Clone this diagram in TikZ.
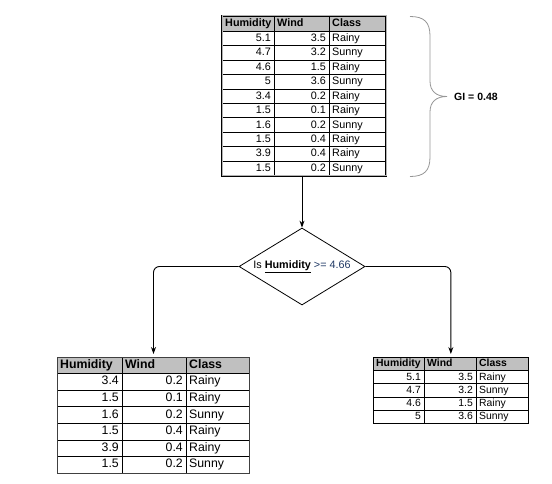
\documentclass[tikz,border=0pt]{standalone}
\usepackage{fontspec}
\setmainfont{Liberation Sans}
\usetikzlibrary{shapes.geometric, arrows.meta}
\definecolor{hdrgray}{RGB}{192,192,192}
\definecolor{condblue}{RGB}{31,56,100}
\definecolor{bracegray}{RGB}{150,150,150}
\begin{document}
\begin{tikzpicture}[
        x=1pt, y=-1pt,
        font=\fontsize{10.8}{12}\selectfont
    ]
    \tikzset{
        tabframe/.style = {draw=black, rectangle, inner sep=0pt, anchor=north west},
        gridl/.style = {draw=black, line width=0.5pt},
        cellr/.style = {anchor=east, inner sep=1pt, text height=1.6ex, text depth=0.4ex},
        celll/.style = {anchor=west, inner sep=1pt, text height=1.6ex, text depth=0.4ex},
        decision/.style = {diamond, draw=black, line width=0.8pt, aspect=1.64,
            minimum width=126pt, minimum height=77pt, inner sep=0pt},
        conn/.style = {-{Stealth[length=7pt,width=5pt]}, line width=0.9pt, rounded corners=6pt},
    }
    \useasboundingbox (0,0) rectangle (552,484);
    % root table
    \fill[hdrgray] (222,15.5) rectangle (386,31);
    \foreach \h/\w/\c [count=\i] in {5.1/3.5/Rainy, 4.7/3.2/Sunny, 4.6/1.5/Rainy,
        5/3.6/Sunny, 3.4/0.2/Rainy, 1.5/0.1/Rainy, 1.6/0.2/Sunny, 1.5/0.4/Rainy,
        3.9/0.4/Rainy, 1.5/0.2/Sunny} {
        \node[cellr] (th\i) at (272,{31+14.45*(\i-0.5)}) {\h};
        \node[cellr] (tw\i) at (327,{31+14.45*(\i-0.5)}) {\w};
        \node[celll] (tc\i) at (331,{31+14.45*(\i-0.5)}) {\c};
        \draw[gridl] (222,{31+14.45*\i}) -- (386,{31+14.45*\i});
    }
    \draw[gridl] (222,31) -- (386,31);
    \draw[gridl] (274,15.5) -- (274,175.5);
    \draw[gridl] (329,15.5) -- (329,175.5);
    \node[celll] (thh) at (224,23.25) {\textbf{Humidity}};
    \node[celll] (twh) at (276,23.25) {\textbf{Wind}};
    \node[celll] (tch) at (331,23.25) {\textbf{Class}};
    \node[tabframe, minimum width=164pt, minimum height=160pt, line width=0.5pt,
        double=gray!60, double distance=0.8pt] (toptab) at (222,15.5) {};
    %
    \draw[bracegray, line width=0.8pt] (410,16.5) .. controls (424,16.5) and (430,22) .. (430,36)
        -- (430,81) .. controls (430,91) and (436,96.5) .. (447,96.5)
        .. controls (436,96.5) and (430,102) .. (430,112)
        -- (430,157) .. controls (430,171) and (424,176.5) .. (410,176.5);
    \node[anchor=west, inner sep=0pt, font=\fontsize{10.5}{12}\selectfont\bfseries] (gi) at (454,96.5) {GI = 0.48};
    %
    \node[decision] (dia) at (302,266.5)
        {Is \underline{\textbf{Humidity}} \textcolor{condblue}{>= 4.66}};
    % left child table
    \begin{scope}[font=\fontsize{12.3}{14}\selectfont]
    \fill[hdrgray] (57,357) rectangle (249,373.5);
    \foreach \h/\w/\c [count=\i] in {3.4/0.2/Rainy, 1.5/0.1/Rainy, 1.6/0.2/Sunny,
        1.5/0.4/Rainy, 3.9/0.4/Rainy, 1.5/0.2/Sunny} {
        \node[cellr] (lh\i) at (120,{373.5+16.6*(\i-0.5)}) {\h};
        \node[cellr] (lw\i) at (184,{373.5+16.6*(\i-0.5)}) {\w};
        \node[celll] (lc\i) at (188,{373.5+16.6*(\i-0.5)}) {\c};
        \draw[gridl] (57,{373.5+16.6*\i}) -- (249,{373.5+16.6*\i});
    }
    \draw[gridl] (57,373.5) -- (249,373.5);
    \draw[gridl] (122,357) -- (122,473.1);
    \draw[gridl] (186,357) -- (186,473.1);
    \node[celll] (lhh) at (59,365.25) {\textbf{Humidity}};
    \node[celll] (lwh) at (124,365.25) {\textbf{Wind}};
    \node[celll] (lch) at (188,365.25) {\textbf{Class}};
    \node[tabframe, minimum width=192pt, minimum height=116.1pt, draw=black!75,
        line width=1pt] (ltab) at (57,357) {};
    \end{scope}
    % right child table
    \begin{scope}[font=\fontsize{10.4}{12}\selectfont]
    \fill[hdrgray] (373,357) rectangle (528,370.5);
    \foreach \h/\w/\c [count=\i] in {5.1/3.5/Rainy, 4.7/3.2/Sunny, 4.6/1.5/Rainy,
        5/3.6/Sunny} {
        \node[cellr] (rh\i) at (422,{370.5+13.2*(\i-0.5)}) {\h};
        \node[cellr] (rw\i) at (474,{370.5+13.2*(\i-0.5)}) {\w};
        \node[celll] (rc\i) at (478,{370.5+13.2*(\i-0.5)}) {\c};
        \draw[gridl] (373,{370.5+13.2*\i}) -- (528,{370.5+13.2*\i});
    }
    \draw[gridl] (373,370.5) -- (528,370.5);
    \draw[gridl] (424,357) -- (424,423.3);
    \draw[gridl] (476,357) -- (476,423.3);
    \node[celll] (rhh) at (375,363.75) {\textbf{Humidity}};
    \node[celll] (rwh) at (426,363.75) {\textbf{Wind}};
    \node[celll] (rch) at (478,363.75) {\textbf{Class}};
    \node[tabframe, minimum width=155pt, minimum height=66.3pt, line width=0.7pt] (rtab) at (373,357) {};
    \end{scope}
    %
    \draw[conn] (toptab.south -| dia.north) -- (dia.north);
    \draw[conn, shorten >=3pt] (dia.west) -| (ltab.north);
    \draw[conn, shorten >=3pt] (dia.east) -| (rtab.north);
\end{tikzpicture}
\end{document}
